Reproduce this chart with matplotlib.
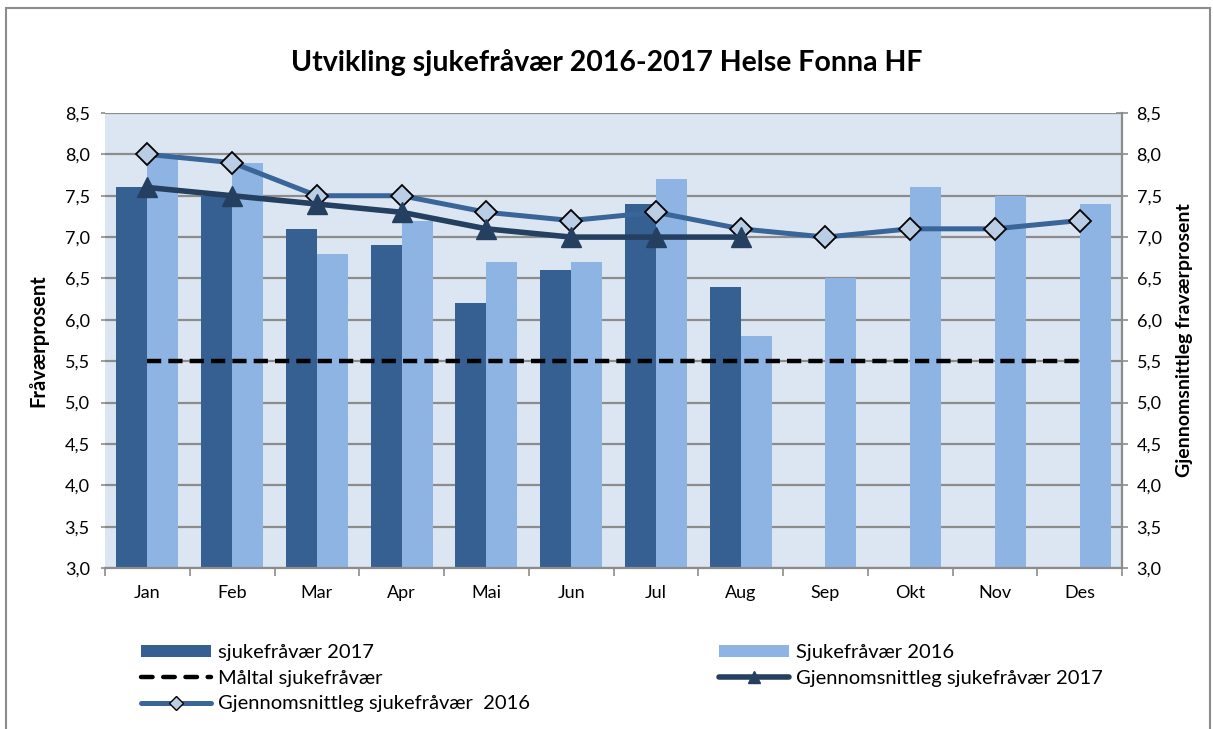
import matplotlib
matplotlib.use("Agg")
import matplotlib.pyplot as plt
import numpy as np
from matplotlib.patches import Rectangle, Patch
from matplotlib.lines import Line2D
from matplotlib.ticker import FuncFormatter

plt.rcParams['font.family'] = ['Lato', 'DejaVu Sans']

months = ["Jan", "Feb", "Mar", "Apr", "Mai", "Jun", "Jul", "Aug", "Sep", "Okt", "Nov", "Des"]
sick_2017 = [7.6, 7.5, 7.1, 6.9, 6.2, 6.6, 7.4, 6.4]
sick_2016 = [8.0, 7.9, 6.8, 7.2, 6.7, 6.7, 7.7, 5.8, 6.5, 7.6, 7.5, 7.4]
target = [5.5] * 12
avg_2017 = [7.6, 7.5, 7.4, 7.3, 7.1, 7.0, 7.0, 7.0]
avg_2016 = [8.0, 7.9, 7.5, 7.5, 7.3, 7.2, 7.3, 7.1, 7.0, 7.1, 7.1, 7.2]
yticks = [3.0, 3.5, 4.0, 4.5, 5.0, 5.5, 6.0, 6.5, 7.0, 7.5, 8.0, 8.5]

c_dark = "#366092"
c_light = "#8EB4E3"
c_avg17 = "#243F60"
c_avg16 = "#3A6599"
c_diam = "#B9CDE5"
grid_c = "#8C8C8C"

W, H = 1213, 729
fig = plt.figure(figsize=(W / 100, H / 100), dpi=100)
fig.patches.append(Rectangle((6 / W, -0.1), (1210 - 6) / W, 1.1 - 8 / H,
                             transform=fig.transFigure, fill=False,
                             edgecolor="#8C8C8C", linewidth=1.5))

ax = fig.add_axes([105 / W, 1 - 568 / H, (1122 - 105) / W, (568 - 113) / H])
ax.set_facecolor("#DCE6F2")

x = np.arange(len(months))
bw = 0.365
ax.bar(x[:len(sick_2017)] - bw / 2, sick_2017, width=bw, color=c_dark, zorder=2)
ax.bar(x - bw / 2 + bw, sick_2016, width=bw, color=c_light, zorder=2)

ax.set_ylim(3.0, 8.5)
ax.set_xlim(-0.5, len(months) - 0.5)
ax.set_yticks(yticks)
fmt = FuncFormatter(lambda v, p: f"{v:.1f}".replace(".", ","))
ax.yaxis.set_major_formatter(fmt)
ax.yaxis.grid(True, color=grid_c, linewidth=1.6, zorder=0)
ax.set_axisbelow(True)

ax.set_xticks(x)
ax.set_xticklabels(months, fontsize=13)
ax.set_xticks(np.arange(-0.5, len(months)), minor=True)
ax.tick_params(axis='x', which='major', length=0, pad=12)
ax.tick_params(axis='x', which='minor', length=6, color=grid_c, width=1.2)
ax.tick_params(axis='y', length=3, color=grid_c, width=1.2, labelsize=13, pad=8)

for s in ["top", "left", "right"]:
    ax.spines[s].set_visible(False)
ax.spines["bottom"].set_color(grid_c)
ax.spines["bottom"].set_linewidth(1.6)

ax.set_ylabel("Fråværprosent", fontsize=14.5, fontweight="bold", labelpad=12)

ax2 = ax.twinx()
ax2.set_ylim(3.0, 8.5)
ax2.set_yticks(yticks)
ax2.yaxis.set_major_formatter(fmt)
for s in ["top", "left", "bottom"]:
    ax2.spines[s].set_visible(False)
ax2.spines["right"].set_color(grid_c)
ax2.spines["right"].set_linewidth(1.6)
ax2.tick_params(axis='y', direction='inout', length=9, color=grid_c, width=1.2,
                labelsize=13, pad=6)
ax2.set_ylabel("Gjennomsnittleg fraværprosent", fontsize=14, fontweight="bold",
               labelpad=10)

l_target, = ax2.plot(x, target, color="black", linewidth=3.2, dashes=(3.2, 1.6),
                     dash_capstyle="butt", zorder=3)
l_16, = ax2.plot(x, avg_2016, color=c_avg16, linewidth=3.6, marker="D",
                 markersize=11, markerfacecolor=c_diam, markeredgecolor="black",
                 markeredgewidth=1.3, zorder=4)
l_17, = ax2.plot(x[:len(avg_2017)], avg_2017, color=c_avg17, linewidth=4,
                 marker="^", markersize=15, markerfacecolor=c_avg17,
                 markeredgecolor=c_avg17, zorder=5)

fig.suptitle("Utvikling sjukefråvær 2016-2017 Helse Fonna HF", fontsize=20.5,
             fontweight="bold", y=1 - 62 / H, va="center")

h_b17 = Patch(facecolor=c_dark)
h_b16 = Patch(facecolor=c_light)
h_t = Line2D([], [], color="black", linewidth=3.2, dashes=(2.6, 2.4),
             dash_capstyle="round")
h_a16 = Line2D([], [], color=c_avg16, linewidth=3.6, marker="D", markersize=7,
               markerfacecolor=c_diam, markeredgecolor="black",
               markeredgewidth=1.0, solid_capstyle="round")
h_a17 = Line2D([], [], color=c_avg17, linewidth=4, marker="^", markersize=8,
               markerfacecolor=c_avg17, markeredgecolor=c_avg17,
               solid_capstyle="round")

common = dict(frameon=False, fontsize=14.5, handlelength=3.5, handleheight=0.55,
              handletextpad=0.3, labelspacing=0.43, borderpad=0, borderaxespad=0,
              loc="upper left")
leg1 = fig.legend([h_b17, h_t, h_a16],
                  ["sjukefråvær 2017", "Måltal sjukefråvær",
                   "Gjennomsnittleg sjukefråvær  2016"],
                  bbox_to_anchor=(141 / W, 1 - 644 / H), **common)
leg2 = fig.legend([h_b16, h_a17],
                  ["Sjukefråvær 2016", "Gjennomsnittleg sjukefråvær 2017"],
                  bbox_to_anchor=(719 / W, 1 - 644 / H), **common)

fig.savefig("out.png", dpi=100)
